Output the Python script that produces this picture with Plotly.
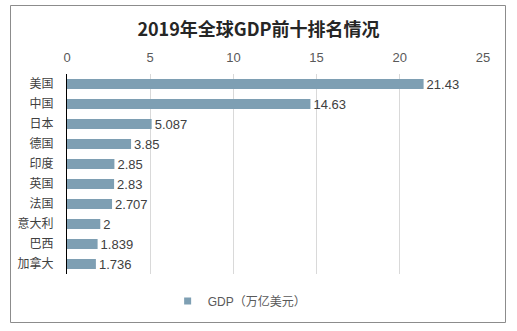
import plotly.graph_objects as go

countries = ["美国", "中国", "日本", "德国", "印度", "英国", "法国", "意大利", "巴西", "加拿大"]
gdp = [21.43, 14.63, 5.087, 3.85, 2.85, 2.83, 2.707, 2, 1.839, 1.736]
gdp_labels = ["21.43", "14.63", "5.087", "3.85", "2.85", "2.83", "2.707", "2", "1.839", "1.736"]
x_ticks = [0, 5, 10, 15, 20, 25]

FONT = "Liberation Sans, Noto Sans CJK SC"
BAR = "#7E9FB3"

fig = go.Figure()
fig.add_trace(go.Bar(
    y=countries, x=gdp, orientation="h",
    name="GDP（万亿美元）",
    showlegend=False,
    marker=dict(color=BAR, line=dict(width=0)),
    text=gdp_labels, textposition="outside", constraintext="none",
    textfont=dict(family=FONT, size=13, color="#404040"),
    cliponaxis=False,
))
fig.add_trace(go.Scatter(
    x=[None], y=[None], mode="markers", name="GDP（万亿美元）",
    marker=dict(symbol="square", size=7, color=BAR),
    showlegend=True,
))

fig.update_layout(
    width=517, height=331,
    margin=dict(l=67, r=34, t=74, b=57),
    paper_bgcolor="white", plot_bgcolor="white",
    bargap=0.5,
    title=dict(text="<b>2019年全球GDP前十排名情况</b>", x=0.5, xanchor="center",
               y=1 - 30 / 331, yanchor="middle",
               font=dict(family="Noto Sans CJK SC", size=18, color="#262626")),
    font=dict(family=FONT, size=12, color="#595959"),
    xaxis=dict(side="top", range=[0, 25], tickvals=x_ticks, showgrid=True,
               gridcolor="#D9D9D9", gridwidth=1, zeroline=False, showline=False,
               ticks="", ticklabelstandoff=8,
               tickfont=dict(family=FONT, size=13, color="#595959")),
    yaxis=dict(autorange="reversed", showline=True, linecolor="#000000", linewidth=1,
               ticks="", ticklabelstandoff=10,
               tickfont=dict(family="Noto Sans CJK SC", size=12, color="#404040")),
    showlegend=True,
    legend=dict(orientation="h", x=0.415, xanchor="center", y=-0.135, yanchor="middle",
                font=dict(family=FONT, size=12, color="#595959"), itemwidth=30),
    shapes=[dict(type="rect", xref="paper", yref="paper",
                 x0=(10.5 - 67) / 416, x1=(505.5 - 67) / 416,
                 y0=(274 - 322.5) / 200, y1=(274 - 5.5) / 200,
                 line=dict(color="#8C8C8C", width=1), fillcolor="rgba(0,0,0,0)")],
)

fig.write_html("out.html")
